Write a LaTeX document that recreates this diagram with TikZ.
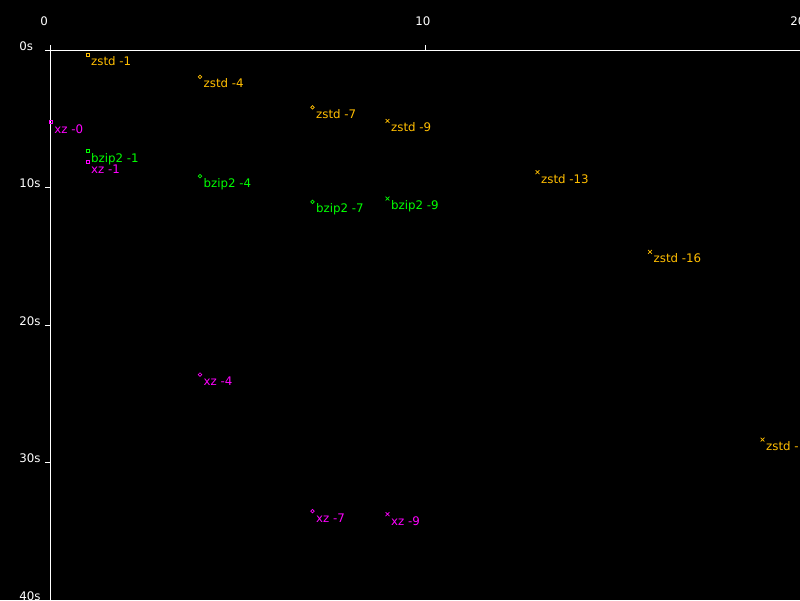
\documentclass[tikz,border=0pt]{standalone}
\usepackage{fontspec}
\setmainfont{DejaVu Sans}
\usetikzlibrary{positioning}
\usetikzlibrary{shapes.misc}
\definecolor{zstdcol}{RGB}{255,190,0}
\definecolor{bzipcol}{RGB}{0,255,0}
\definecolor{xzcol}{RGB}{255,0,255}

\begin{document}
\begin{tikzpicture}[x=0.9375cm, y=-0.34375cm, font=\fontsize{8.4}{10}\selectfont,
   axis/.style={draw=white, line width=0.7pt},
   sq/.style={draw, rectangle, inner sep=0pt, minimum size=2.3pt, line width=0.5pt},
   ci/.style={draw, circle, inner sep=0pt, minimum size=2.5pt, line width=0.5pt},
   xx/.style={draw, cross out, inner sep=0pt, minimum size=2.2pt, line width=0.5pt},
   lab/.style={inner sep=0pt, anchor=base west, yshift=-7.8pt}]
\fill[black] (-1.3333,-3.6364) rectangle (20,40);
\useasboundingbox (-1.3333,-3.6364) rectangle (20,40);

% axes
\draw[axis] (0,0) -- (20,0);
\draw[axis] (0,0) -- (0,40);
\draw[axis] (0,0) -- (0,-0.3636);
\draw[axis] (10,0) -- (10,-0.3636);
\draw[axis] (20,0) -- (20,-0.3636);
\draw[axis] (-0.1333,0) -- (0,0);
\draw[axis] (-0.1333,10) -- (0,10);
\draw[axis] (-0.1333,20) -- (0,20);
\draw[axis] (-0.1333,30) -- (0,30);
\draw[axis] (-0.1333,40) -- (0,40);

\begin{scope}[every node/.style={text=white, inner sep=0pt, anchor=base west}]
   \node[xshift=-7pt] (lx0) at (0,-1.767) {0};
   \node[xshift=-7pt] (lx10) at (10,-1.767) {10};
   \node[xshift=-7pt] (lx20) at (20,-1.767) {20};
   \node[xshift=-0.6pt] (ly0) at (-0.8,0) {0s};
   \node[xshift=-0.6pt] (ly10) at (-0.8,10) {10s};
   \node[xshift=-0.6pt] (ly20) at (-0.8,20) {20s};
   \node[xshift=-0.6pt] (ly30) at (-0.8,30) {30s};
   \node[xshift=-0.6pt] (ly40) at (-0.8,40) {40s};
\end{scope}

% markers
\begin{scope}[every node/.style={draw=zstdcol}]
   \node[sq] (zstd1) at (1, 0.36) {};
   \node[ci] (zstd4) at (4, 1.96) {};
   \node[ci] (zstd7) at (7, 4.18) {};
   \node[xx] (zstd9) at (9, 5.16) {};
   \node[xx] (zstd13) at (13, 8.89) {};
   \node[xx] (zstd16) at (16, 14.68) {};
   \node[xx] (zstd19) at (19, 28.33) {};
\end{scope}

\begin{scope}[every node/.style={draw=bzipcol}]
   \node[sq] (bzip1) at (1, 7.36) {};
   \node[ci] (bzip4) at (4, 9.18) {};
   \node[ci] (bzip7) at (7, 11.04) {};
   \node[xx] (bzip9) at (9, 10.8) {};
\end{scope}

\begin{scope}[every node/.style={draw=xzcol}]
   \node[sq] (xz0) at (0.02, 5.25) {};
   \node[sq] (xz1) at (1, 8.16) {};
   \node[ci] (xz4) at (4, 23.6) {};
   \node[ci] (xz7) at (7, 33.54) {};
   \node[xx] (xz9) at (9, 33.76) {};
\end{scope}

% labels
\begin{scope}[every node/.style={text=zstdcol}]
   \node[right=2.4pt of zstd1.center, lab] {zstd -1};
   \node[right=2.4pt of zstd4.center, lab] {zstd -4};
   \node[right=2.4pt of zstd7.center, lab] {zstd -7};
   \node[right=2.4pt of zstd9.center, lab] {zstd -9};
   \node[right=2.4pt of zstd13.center, lab] {zstd -13};
   \node[right=2.4pt of zstd16.center, lab] {zstd -16};
   \node[right=2.4pt of zstd19.center, lab] {zstd -};
\end{scope}

\begin{scope}[every node/.style={text=bzipcol}]
   \node[right=2.4pt of bzip1.center, lab] {bzip2 -1};
   \node[right=2.4pt of bzip4.center, lab] {bzip2 -4};
   \node[right=2.4pt of bzip7.center, lab] {bzip2 -7};
   \node[right=2.4pt of bzip9.center, lab] {bzip2 -9};
\end{scope}

\begin{scope}[every node/.style={text=xzcol}]
   \node[right=2.4pt of xz0.center, lab] {xz -0};
   \node[right=2.4pt of xz1.center, lab] {xz -1};
   \node[right=2.4pt of xz4.center, lab] {xz -4};
   \node[right=2.4pt of xz7.center, lab] {xz -7};
   \node[right=2.4pt of xz9.center, lab] {xz -9};
\end{scope}
\end{tikzpicture}
\end{document}
